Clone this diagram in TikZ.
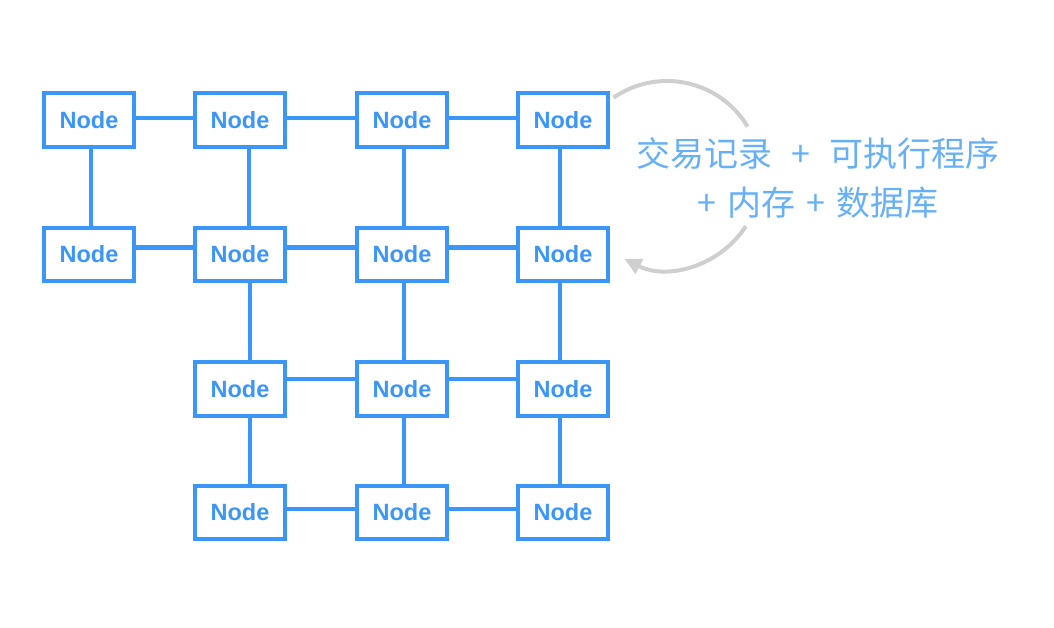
\documentclass[tikz,border=0pt]{standalone}
\usepackage{fontspec}
\setmainfont{Liberation Sans}
\newfontfamily\cjk{Noto Sans CJK SC}
\usepackage{xcolor}
\definecolor{nodeblue}{HTML}{3A96F8}
\definecolor{noteblue}{HTML}{66B0F7}
\definecolor{loopgray}{HTML}{CFCFCF}
\usetikzlibrary{arrows.meta}

\begin{document}
\begin{tikzpicture}[x=1pt, y=1pt,
    peer/.style={draw=nodeblue, line width=4.2pt, fill=white, minimum width=89.7pt, minimum height=53.7pt,
      inner sep=0pt, text=nodeblue, font=\fontsize{23.5}{28}\selectfont\bfseries},
    link/.style={nodeblue, line width=4.1pt},
    loop/.style={loopgray, line width=4pt}]
        \useasboundingbox (0,0) rectangle (1054,627);
        \coordinate (loopc) at (667,452);

        % Row 1
        \node[peer] (n11) at (89,507) {Node};
        \node[peer] (n12) at (240,507) {Node};
        \node[peer] (n13) at (402,507) {Node};
        \node[peer] (n14) at (563,507) {Node};
        % Row 2
        \node[peer] (n21) at (89,372.5) {Node};
        \node[peer] (n22) at (240,372.5) {Node};
        \node[peer] (n23) at (402,372.5) {Node};
        \node[peer] (n24) at (563,372.5) {Node};
        % Row 3
        \node[peer] (n32) at (240,238) {Node};
        \node[peer] (n33) at (402,238) {Node};
        \node[peer] (n34) at (563,238) {Node};
        % Row 4
        \node[peer] (n42) at (240,114.5) {Node};
        \node[peer] (n43) at (402,114.5) {Node};
        \node[peer] (n44) at (563,114.5) {Node};

        % Horizontal links
        \draw[link] ([yshift=2pt]n11.east) -- ([yshift=2pt]n12.west);
        \draw[link] ([yshift=2pt]n12.east) -- ([yshift=2pt]n13.west);
        \draw[link] ([yshift=2pt]n13.east) -- ([yshift=2pt]n14.west);
        \draw[link] ([yshift=7pt]n21.east) -- ([yshift=7pt]n22.west);
        \draw[link] ([yshift=7pt]n22.east) -- ([yshift=7pt]n23.west);
        \draw[link] ([yshift=7pt]n23.east) -- ([yshift=7pt]n24.west);
        \draw[link] ([yshift=10pt]n32.east) -- ([yshift=10pt]n33.west);
        \draw[link] ([yshift=10pt]n33.east) -- ([yshift=10pt]n34.west);
        \draw[link] ([yshift=3.5pt]n42.east) -- ([yshift=3.5pt]n43.west);
        \draw[link] ([yshift=3.5pt]n43.east) -- ([yshift=3.5pt]n44.west);

        % Vertical links
        \draw[link] ([xshift=2pt]n11.south) -- ([xshift=2pt]n21.north);
        \draw[link] ([xshift=9pt]n12.south) -- ([xshift=9pt]n22.north);
        \draw[link] ([xshift=2pt]n13.south) -- ([xshift=2pt]n23.north);
        \draw[link] ([xshift=-3pt]n14.south) -- ([xshift=-3pt]n24.north);
        \draw[link] ([xshift=10pt]n22.south) -- ([xshift=10pt]n32.north);
        \draw[link] ([xshift=2pt]n23.south) -- ([xshift=2pt]n33.north);
        \draw[link] ([xshift=-3pt]n24.south) -- ([xshift=-3pt]n34.north);
        \draw[link] ([xshift=10pt]n32.south) -- ([xshift=10pt]n42.north);
        \draw[link] ([xshift=2pt]n33.south) -- ([xshift=2pt]n43.north);
        \draw[link] ([xshift=-3pt]n34.south) -- ([xshift=-3pt]n44.north);

        % Execution loop
        \draw[loop] ([shift={(124.7:94)}]loopc) arc[start angle=124.7, end angle=31, radius=94];
        \draw[loop, -{Triangle[length=17pt, width=16pt]}] ([shift={(-33:94)}]loopc) arc[start angle=-33, end angle=-117, radius=94];
        \node[align=center, text=noteblue, font=\cjk\fontsize{34}{49.5}\selectfont] (note) at (818,449)
          {交易记录\hspace{11.5pt} + \hspace{11.5pt}可执行程序\\+\hspace{3.5pt} 内存\hspace{3.5pt} + \hspace{3.5pt}数据库};
\end{tikzpicture}
\end{document}
